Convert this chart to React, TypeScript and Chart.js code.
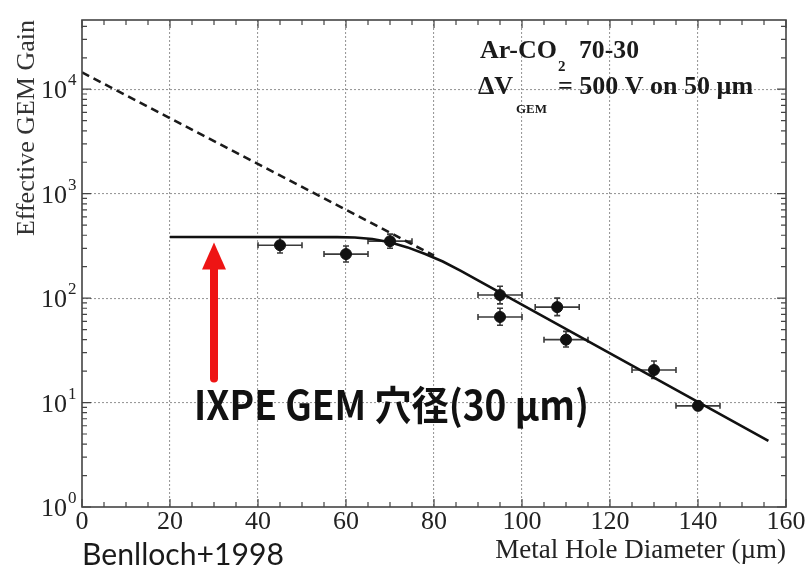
import { useEffect, useRef } from "react";
import { Chart, registerables } from "chart.js";

Chart.register(...registerables);

// ---- axis ticks ----
const xTicks = [0, 20, 40, 60, 80, 100, 120, 140, 160];
const yTicks = [1, 10, 100, 1000, 10000];
const yExponents = ["0", "1", "2", "3", "4"];

// ---- measured points (Benlloch+1998) ----
const holeDiameter = [45, 60, 70, 95, 95, 108, 110, 130, 140];
const gain = [321, 264, 351, 107, 66, 82, 40, 20.5, 9.3];
const gainLow = [270, 222, 300, 88, 55, 68, 34, 17, 8.5];
const gainHigh = [385, 315, 410, 130, 80, 100, 48, 25, 10.3];
const diameterErr = [5, 5, 5, 5, 5, 5, 5, 5, 5];

// ---- fit curve (solid) ----
const fitDiameter = [20, 58, 62, 66, 70, 74, 78, 82, 86, 90, 156];
const fitGain = [385, 384, 380, 368, 343, 306, 264, 224, 183, 148, 4.3];

// ---- exponential extrapolation (dashed) ----
const extrapDiameter = [0, 80];
const extrapGain = [14500, 255];

// ---- IXPE arrow ----
const arrowDiameter = 30;
const arrowFromGain = 17;
const arrowToGain = 340;

const SERIF = "'Liberation Serif', 'Times New Roman', serif";

const decorPlugin = {
  id: "decor",
  beforeDraw(chart: any) {
    const ctx = chart.ctx;
    ctx.save();
    ctx.fillStyle = "#ffffff";
    ctx.fillRect(0, 0, chart.width, chart.height);
    ctx.restore();
  },
  beforeDatasetsDraw(chart: any) {
    const ctx = chart.ctx;
    const xs = chart.scales.x;
    const ys = chart.scales.y;
    ctx.save();
    ctx.strokeStyle = "#3a3a3a";
    ctx.lineWidth = 1.6;
    const cap = 3;
    for (let i = 0; i < holeDiameter.length; i++) {
      const px = xs.getPixelForValue(holeDiameter[i]);
      const py = ys.getPixelForValue(gain[i]);
      const x1 = xs.getPixelForValue(holeDiameter[i] - diameterErr[i]);
      const x2 = xs.getPixelForValue(holeDiameter[i] + diameterErr[i]);
      const y1 = ys.getPixelForValue(gainLow[i]);
      const y2 = ys.getPixelForValue(gainHigh[i]);
      ctx.beginPath();
      ctx.moveTo(x1, py);
      ctx.lineTo(x2, py);
      ctx.moveTo(x1, py - cap);
      ctx.lineTo(x1, py + cap);
      ctx.moveTo(x2, py - cap);
      ctx.lineTo(x2, py + cap);
      ctx.moveTo(px, y1);
      ctx.lineTo(px, y2);
      ctx.moveTo(px - cap, y1);
      ctx.lineTo(px + cap, y1);
      ctx.moveTo(px - cap, y2);
      ctx.lineTo(px + cap, y2);
      ctx.stroke();
    }
    ctx.restore();
  },
  afterDraw(chart: any) {
    const ctx = chart.ctx;
    const xs = chart.scales.x;
    const ys = chart.scales.y;
    const { left, right, top, bottom } = chart.chartArea;
    ctx.save();

    // minor / major tick marks (inside, on all four sides)
    ctx.strokeStyle = "#444";
    ctx.lineWidth = 1.2;
    ctx.beginPath();
    for (let v = 0; v <= 160; v += 5) {
      const px = xs.getPixelForValue(v);
      const len = v % 20 === 0 ? 8 : 5;
      ctx.moveTo(px, bottom);
      ctx.lineTo(px, bottom - len);
      ctx.moveTo(px, top);
      ctx.lineTo(px, top + len);
    }
    const yMax = ys.max;
    for (const d of yTicks) {
      for (let k = 1; k <= 9; k++) {
        const v = d * k;
        if (v > yMax) break;
        const py = ys.getPixelForValue(v);
        const len = k === 1 ? 9 : 5;
        ctx.moveTo(left, py);
        ctx.lineTo(left + len, py);
        ctx.moveTo(right, py);
        ctx.lineTo(right - len, py);
      }
    }
    ctx.stroke();

    // frame
    ctx.strokeStyle = "#444";
    ctx.lineWidth = 1.6;
    ctx.strokeRect(left, top, right - left, bottom - top);

    // y tick labels 10^n
    ctx.fillStyle = "#222";
    for (const t of ys.ticks) {
      const idx = yTicks.indexOf(t.value);
      if (idx < 0) continue;
      const py = ys.getPixelForValue(t.value);
      ctx.font = `26px ${SERIF}`;
      ctx.textAlign = "right";
      ctx.textBaseline = "alphabetic";
      ctx.fillText("10", left - 15, py + 9);
      ctx.font = `17px ${SERIF}`;
      ctx.textAlign = "left";
      ctx.fillText(yExponents[idx], left - 14, py - 4);
    }

    // arrow
    const ax = xs.getPixelForValue(arrowDiameter);
    const ayB = ys.getPixelForValue(arrowFromGain);
    const ayT = ys.getPixelForValue(arrowToGain);
    ctx.strokeStyle = "#ee1414";
    ctx.fillStyle = "#ee1414";
    ctx.lineWidth = 8;
    ctx.lineCap = "round";
    ctx.beginPath();
    ctx.moveTo(ax, ayB);
    ctx.lineTo(ax, ayT + 24);
    ctx.stroke();
    ctx.beginPath();
    ctx.moveTo(ax, ayT);
    ctx.lineTo(ax - 12, ayT + 27);
    ctx.lineTo(ax + 12, ayT + 27);
    ctx.closePath();
    ctx.fill();

    // annotations
    ctx.fillStyle = "#1a1a1a";
    ctx.textAlign = "left";
    ctx.textBaseline = "alphabetic";
    ctx.font = `bold 26px ${SERIF}`;
    ctx.fillText("Ar-CO", 480, 58, 81);
    const w1 = Math.min(ctx.measureText("Ar-CO").width, 81);
    ctx.font = `bold 15px ${SERIF}`;
    ctx.fillText("2", 480 + w1 + 1, 71);
    ctx.font = `bold 26px ${SERIF}`;
    ctx.fillText("70-30", 579, 58, 60);

    ctx.fillText("\u0394V", 478, 94, 40);
    ctx.font = `bold 13px ${SERIF}`;
    ctx.fillText("GEM", 516, 113, 41);
    ctx.font = `bold 26px ${SERIF}`;
    ctx.fillText("= 500 V on 50 \u00b5m", 558, 94, 212);

    ctx.fillStyle = "#111";
    ctx.font = "bold 40px 'Noto Sans CJK JP', 'Noto Sans CJK SC', sans-serif";
    ctx.fillText("IXPE GEM \u7a74\u5f84(30 \u00b5m)", 194, 420, 395);

    ctx.fillStyle = "#1a1a1a";
    ctx.font = "31px Lato, 'Noto Sans', sans-serif";
    ctx.fillText("Benlloch+1998", 82, 565, 202);

    ctx.restore();
  },
};

export default function App() {
  const ref = useRef<HTMLCanvasElement | null>(null);

  useEffect(() => {
    const canvas = ref.current;
    if (!canvas) return;
    const chart = new Chart(canvas, {
      type: "scatter",
      data: {
        datasets: [
          {
            label: "extrapolation",
            data: extrapDiameter.map((x, i) => ({ x, y: extrapGain[i] })),
            showLine: true,
            borderColor: "#1a1a1a",
            borderWidth: 2.6,
            borderDash: [8, 5],
            pointRadius: 0,
          },
          {
            label: "fit",
            data: fitDiameter.map((x, i) => ({ x, y: fitGain[i] })),
            showLine: true,
            borderColor: "#111",
            borderWidth: 2.6,
            pointRadius: 0,
          },
          {
            label: "data",
            data: holeDiameter.map((x, i) => ({ x, y: gain[i] })),
            pointRadius: 5.5,
            pointBackgroundColor: "#111",
            pointBorderColor: "#111",
            showLine: false,
          },
        ],
      } as any,
      options: {
        animation: false,
        responsive: false,
        maintainAspectRatio: false,
        layout: { padding: { top: 20, right: 23, left: 0, bottom: 0 } },
        plugins: { legend: { display: false }, tooltip: { enabled: false } },
        scales: {
          x: {
            type: "linear",
            min: 0,
            max: 160,
            afterBuildTicks: (s: any) => {
              s.ticks = xTicks.map((v) => ({ value: v }));
            },
            afterFit: (s: any) => {
              s.height = 62;
            },
            grid: {
              color: (c: any) =>
                c.tick && (c.tick.value === 0 || c.tick.value === 160) ? "rgba(0,0,0,0)" : "#9a9a9a",
              lineWidth: 1.1,
              drawTicks: false,
            },
            border: { display: false, dash: [2, 2] },
            ticks: {
              color: "#222",
              font: { family: SERIF, size: 26 },
              padding: 0,
              maxRotation: 0,
              autoSkip: false,
            },
            title: {
              display: true,
              text: "Metal Hole Diameter (\u00b5m)",
              align: "end",
              color: "#222",
              font: { family: SERIF, size: 27 },
              padding: { top: 0, bottom: 2 },
            },
          },
          y: {
            type: "logarithmic",
            min: 1,
            max: 46000,
            afterBuildTicks: (s: any) => {
              s.ticks = yTicks.map((v) => ({ value: v }));
            },
            afterFit: (s: any) => {
              s.width = 82;
            },
            grid: {
              color: (c: any) => (c.tick && c.tick.value === 1 ? "rgba(0,0,0,0)" : "#9a9a9a"),
              lineWidth: 1.1,
              drawTicks: false,
            },
            border: { display: false, dash: [2, 2] },
            ticks: { display: false },
            title: {
              display: true,
              text: "Effective GEM Gain",
              align: "end",
              color: "#333",
              font: { family: SERIF, size: 26 },
              padding: { top: 12, bottom: 0 },
            },
          },
        },
      } as any,
      plugins: [decorPlugin],
    });
    return () => chart.destroy();
  }, []);

  return (
    <div style={{ position: "absolute", left: 0, top: 0, width: 809, height: 569 }}>
      <canvas ref={ref} width={809} height={569} style={{ display: "block", width: 809, height: 569 }} />
    </div>
  );
}
